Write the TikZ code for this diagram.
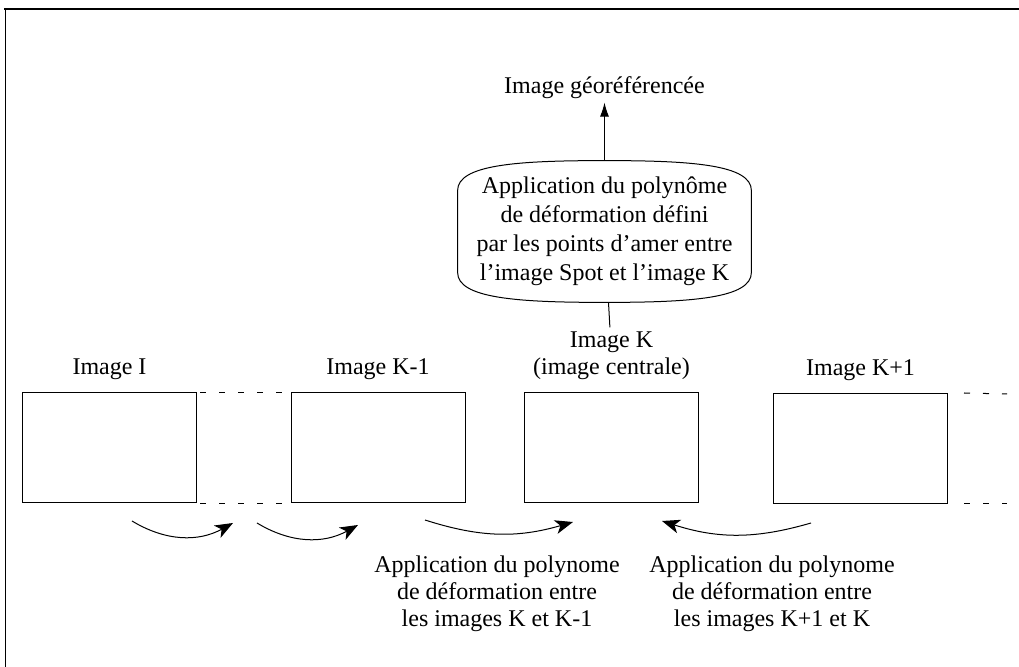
\documentclass[tikz,border=0pt]{standalone}
\usepackage{fontspec}
\setmainfont{Liberation Serif}
\usetikzlibrary{arrows.meta,positioning,calc}

\begin{document}
\begin{tikzpicture}[x=0.5pt, y=-0.5pt, node distance=4pt,
        font=\fontsize{12}{13.5}\selectfont,
        imgbox/.style={rectangle, draw, line width=0.5pt, inner sep=0pt, minimum width=87pt, minimum height=55pt},
        imglabel/.style={align=center, inner sep=2pt},
        polybox/.style={align=center, inner sep=0pt, minimum width=146.5pt, minimum height=70.5pt, font=\fontsize{12}{14.5}\selectfont},
        note/.style={align=center, inner sep=2pt},
        arrow/.style={-{Latex[length=7pt, width=4.5pt]}, line width=0.5pt},
        curvearrow/.style={-{Stealth[length=9pt, width=7pt, inset=2.5pt]}, line width=0.5pt},
        gapline/.style={dash pattern=on 3pt off 6.5pt, line width=0.5pt}]

        \useasboundingbox (0,0) rectangle (1019,667);

        % Frame
        \draw[line width=1pt] (4,9) -- (1019,9);
        \draw[line width=0.5pt] (5,9) -- (5,667);

        % Image row
        \node[imgbox] (img1) at (109.5,448) {};
        \node[imgbox] (img2) at (378,448) {};
        \node[imgbox] (imgk) at (611.5,447.5) {};
        \node[imgbox] (imgk1) at (860.5,448.5) {};

        \node[imglabel, above=4pt of img1] (name1) {Image I};
        \node[imglabel, above=4pt of img2] (name2) {Image K-1};
        \node[imglabel, above=4pt of imgk] (namek) {Image K\\(image centrale)};
        \node[imglabel, above=4pt of imgk1] (namek1) {Image K+1};

        % Polynome and result
        \node[polybox] (poly) at (604.5,231.5) {Application du polynôme\\de déformation défini\\par les points d'amer entre\\l'image Spot et l'image K};
        \draw[line width=0.5pt] ($(poly.north west)+(0,30)$) .. controls ($(poly.north west)+(0,4)$) and ($(poly.north west)+(60,0)$) .. (poly.north)
            .. controls ($(poly.north east)+(-60,0)$) and ($(poly.north east)+(0,4)$) .. ($(poly.north east)+(0,30)$)
            -- ($(poly.south east)+(0,-30)$)
            .. controls ($(poly.south east)+(0,-4)$) and ($(poly.south east)+(-60,0)$) .. (poly.south)
            .. controls ($(poly.south west)+(60,0)$) and ($(poly.south west)+(0,-4)$) .. ($(poly.south west)+(0,-30)$)
            -- cycle;
        \node[note, above=29pt of poly] (geo) {Image géoréférencée};

        \draw[arrow] (poly) -- (geo);
        \draw[line width=0.5pt] (poly) -- (namek);

        % Gaps between images
        \coordinate (tailtop) at (1007,394);
        \coordinate (tailbot) at (1007,504);
        \draw[gapline] ([xshift=1.5pt]img1.north east) -- ([xshift=-1.5pt]img2.north west);
        \draw[gapline] ([xshift=1.5pt]img1.south east) -- ([xshift=-1.5pt]img2.south west);
        \draw[gapline] ([xshift=8pt]imgk1.north east) -- (tailtop);
        \draw[gapline] ([xshift=8pt]imgk1.south east) -- (tailbot);

        % Successive deformations
        \coordinate (a1s) at (132,521);
        \coordinate (a1e) at (233,523);
        \coordinate (a2s) at (257,523);
        \coordinate (a2e) at (358,525);
        \coordinate (a3s) at (425,520);
        \coordinate (a3e) at (573,522);
        \coordinate (a4s) at (811,523);
        \coordinate (a4e) at (662,521);
        \draw[curvearrow] (a1s) to[bend right=30] (a1e);
        \draw[curvearrow] (a2s) to[bend right=30] (a2e);
        \draw[curvearrow] (a3s) to[bend right=17] (a3e);
        \draw[curvearrow] (a4s) to[bend left=17] (a4e);

        \node[note] (left) at (497,594) {Application du polynome\\de déformation entre\\les images K et K-1};
        \node[note] (right) at (772,594) {Application du polynome\\de déformation entre\\les images K+1 et K};
    \end{tikzpicture}
\end{document}
